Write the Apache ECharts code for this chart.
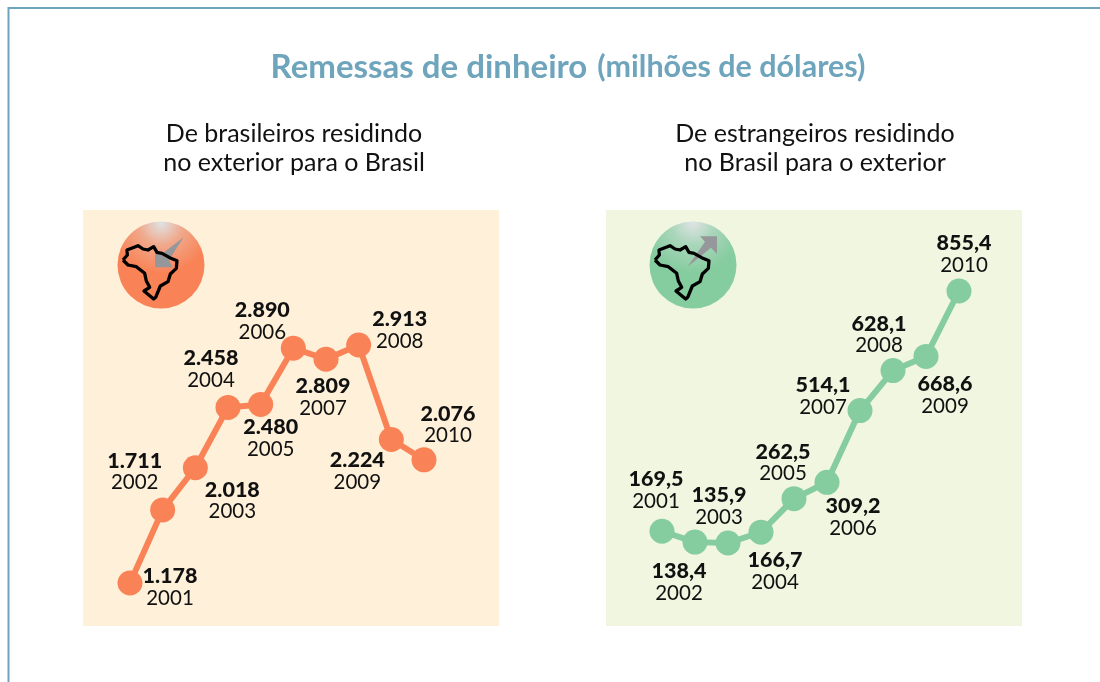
<!DOCTYPE html>
<html><head><meta charset="utf-8">
<style>html,body{margin:0;padding:0;background:#fff}#c{width:1100px;height:682px}</style>
<script src="https://cdn.jsdelivr.net/npm/echarts@6/dist/echarts.min.js"></script>
</head><body><div id="c"></div>
<script>
const yearsOut = ['2001','2002','2003','2004','2005','2006','2007','2008','2009','2010'];
const valuesToBrazil = [1178,1711,2018,2458,2480,2890,2809,2913,2224,2076];
const labelsToBrazil = ['1.178','1.711','2.018','2.458','2.480','2.890','2.809','2.913','2.224','2.076'];
const valuesFromBrazil = [169.5,138.4,135.9,166.7,262.5,309.2,514.1,628.1,668.6,855.4];
const labelsFromBrazil = ['169,5','138,4','135,9','166,7','262,5','309,2','514,1','628,1','668,6','855,4'];
const offsetsToBrazil = [[40,4],[-28,-38],[37,33],[-17,-38],[10,34],[-31,-27],[-3,38],[41,-15],[-34,32],[24,-35]];
const offsetsFromBrazil = [[-6,-41],[-16,40],[-9,-37],[14,39],[-11,-36],[26,35],[-37,-14],[-14,-36],[19,39],[5,-37]];

const FONT = 'Lato';
const ORANGE = '#F98357', GREEN = '#85CC9F', BLUE = '#6FA5BC';

function seriesOf(values, labels, offsets, color, idx){
  return {
    type:'line', xAxisIndex:idx, yAxisIndex:idx, symbol:'circle', symbolSize:25, z:3, showAllSymbol:true,
    lineStyle:{color, width:6}, itemStyle:{color}, silent:true, animation:false,
    data: values.map((v,i)=>({
      value:v,
      label:{
        show:true, position:'inside', offset:offsets[i], align:'center', verticalAlign:'middle',
        formatter:'{v|'+labels[i]+'}\n{y|'+yearsOut[i]+'}',
        rich:{
          v:{fontFamily:FONT,fontWeight:900,fontSize:21.5,color:'#111',lineHeight:22,align:'center'},
          y:{fontFamily:FONT,fontWeight:400,fontSize:20.5,color:'#111',lineHeight:22,align:'center'}
        }
      }
    }))
  };
}

const brazil = [[120,150],[133,135],[132,120],[165,107],[180,117],[195,120],[212,110],[222,127],[237,130],[260,143],[282,152],[280,175],[262,192],[255,215],[232,228],[218,262],[212,267],[183,243],[200,232],[190,213],[185,190],[160,170],[135,165],[120,150]];
const arrowIn = [[216,115],[236,132],[302,82],[258,150],[268,172],[216,172]];
const arrowOut = [[282,79],[333,79],[333,132],[315,113],[245,170],[297,95]];
const toAbs = (p,ox)=>p.map(q=>[ox+q[0]/3,210+q[1]/3]);

function icon(cx,color,mid,arrow,ox,bx){
  return [
    {type:'circle',shape:{cx,cy:265,r:43.5},z:1,silent:true,style:{fill:new echarts.graphic.RadialGradient(0.5,0.02,0.72,[
      {offset:0,color:'#DFE3E4'},{offset:0.35,color:mid},{offset:0.8,color:color},{offset:1,color:color}])}},
    {type:'polygon',shape:{points:toAbs(arrow,ox)},z:2,silent:true,style:{fill:'#96979B'}},
    {type:'polyline',shape:{points:toAbs(brazil,bx)},z:3,silent:true,style:{stroke:'#000',lineWidth:3.3,fill:null,lineJoin:'round'}}
  ];
}

const chart = echarts.init(document.getElementById('c'),null,{renderer:'canvas'});
chart.setOption({
  animation:false,
  backgroundColor:'#fff',
  title:[
    {left:563,top:46,textAlign:'center',text:'{a|Remessas de dinheiro}  {b|(milhões de dólares)}',
      textStyle:{rich:{a:{fontFamily:FONT,fontWeight:700,fontSize:33,color:BLUE},b:{fontFamily:FONT,fontWeight:700,fontSize:30.5,color:BLUE}}}},
    {left:289,top:115,textAlign:'center',text:'De brasileiros residindo\nno exterior para o Brasil',
      textStyle:{fontFamily:FONT,fontWeight:400,fontSize:25,lineHeight:28.5,color:'#111'}},
    {left:810,top:115,textAlign:'center',text:'De estrangeiros residindo\nno Brasil para o exterior',
      textStyle:{fontFamily:FONT,fontWeight:400,fontSize:25,lineHeight:28.5,color:'#111'}}
  ],
  grid:[
    {left:130,top:345,width:294,height:238},
    {left:662,top:291,width:297,height:252}
  ],
  xAxis:[
    {type:'category',gridIndex:0,show:false,boundaryGap:false,data:yearsOut},
    {type:'category',gridIndex:1,show:false,boundaryGap:false,data:yearsOut}
  ],
  yAxis:[
    {type:'value',gridIndex:0,show:false,min:1178,max:2913,splitLine:{show:false}},
    {type:'value',gridIndex:1,show:false,min:135.9,max:855.4,splitLine:{show:false}}
  ],
  series:[
    seriesOf(valuesToBrazil,labelsToBrazil,offsetsToBrazil,ORANGE,0),
    seriesOf(valuesFromBrazil,labelsFromBrazil,offsetsFromBrazil,GREEN,1)
  ],
  graphic:{elements:[
    {type:'polyline',shape:{points:[[1100,8],[8.5,8],[8.5,682]]},silent:true,z:0,style:{stroke:BLUE,lineWidth:2,fill:null}},
    {type:'rect',shape:{x:83,y:210,width:416,height:416},silent:true,z:0,style:{fill:'#FEF0D9'}},
    {type:'rect',shape:{x:606,y:210,width:416,height:416},silent:true,z:0,style:{fill:'#F0F6DF'}},
    ...icon(161,ORANGE,'#F0A98C',arrowIn,83,83),
    ...icon(693,GREEN,'#A9D6BA',arrowOut,606,615)
  ]}
});
</script></body></html>
